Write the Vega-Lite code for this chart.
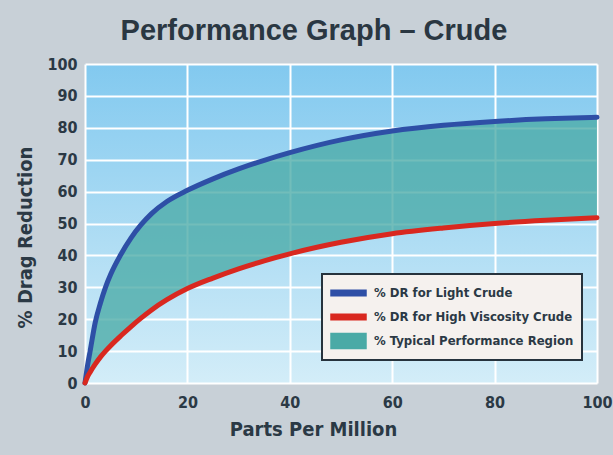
{
  "$schema": "https://vega.github.io/schema/vega-lite/v6.json",
  "width": 512,
  "height": 319,
  "autosize": {"type": "none"},
  "padding": {"left": 85, "top": 64, "right": 16, "bottom": 72},
  "background": "#c8d0d7",
  "title": {
    "text": "Performance Graph – Crude",
    "font": "Liberation Sans",
    "fontSize": 29,
    "fontWeight": "bold",
    "color": "#2a3742",
    "anchor": "middle",
    "dx": -27,
    "offset": 10
  },
  "config": {
    "view": {
      "stroke": null,
      "fill": {
        "gradient": "linear",
        "x1": 0, "y1": 0, "x2": 0, "y2": 1,
        "stops": [
          {"offset": 0, "color": "#82c9ef"},
          {"offset": 1, "color": "#d3edf8"}
        ]
      }
    },
    "axis": {
      "domain": false,
      "ticks": false,
      "grid": true,
      "gridColor": "#ffffff",
      "gridWidth": 2,
      "gridOpacity": 1,
      "labelFlush": false,
      "labelOverlap": false,
      "labelFont": "DejaVu Sans Condensed",
      "labelFontSize": 16,
      "labelFontWeight": "bold",
      "labelColor": "#2b3945",
      "titleFont": "DejaVu Sans Condensed",
      "titleFontSize": 20,
      "titleFontWeight": "bold",
      "titleColor": "#2b3945"
    },
    "legend": {
      "labelLimit": 400
    }
  },
  "data": {
    "values": [
      {"ppm": 0, "light": 0, "heavy": 0},
      {"ppm": 0.5, "light": 5.5, "heavy": 2},
      {"ppm": 1, "light": 10, "heavy": 3.4},
      {"ppm": 2, "light": 19, "heavy": 5.9},
      {"ppm": 3, "light": 25, "heavy": 8.1},
      {"ppm": 4, "light": 30, "heavy": 10},
      {"ppm": 5, "light": 34, "heavy": 11.7},
      {"ppm": 7, "light": 40.3, "heavy": 14.8},
      {"ppm": 9, "light": 45.5, "heavy": 17.7},
      {"ppm": 11, "light": 49.7, "heavy": 20.4},
      {"ppm": 13, "light": 53.1, "heavy": 22.9},
      {"ppm": 16, "light": 56.9, "heavy": 26.1},
      {"ppm": 20, "light": 60.4, "heavy": 29.6},
      {"ppm": 25, "light": 64, "heavy": 32.9},
      {"ppm": 30, "light": 67.1, "heavy": 35.8},
      {"ppm": 35, "light": 69.8, "heavy": 38.3},
      {"ppm": 40, "light": 72.2, "heavy": 40.5},
      {"ppm": 50, "light": 76.2, "heavy": 44.1},
      {"ppm": 60, "light": 79, "heavy": 46.8},
      {"ppm": 70, "light": 80.8, "heavy": 48.6},
      {"ppm": 80, "light": 82, "heavy": 50},
      {"ppm": 90, "light": 82.8, "heavy": 51},
      {"ppm": 100, "light": 83.3, "heavy": 51.8}
    ]
  },
  "encoding": {
    "x": {
      "field": "ppm",
      "type": "quantitative",
      "scale": {"domain": [0, 100], "nice": false},
      "axis": {
        "title": "Parts Per Million",
        "values": [0, 20, 40, 60, 80, 100],
        "labelPadding": 11,
        "titlePadding": 9,
        "titleX": 228
      }
    }
  },
  "layer": [
    {
      "mark": {"type": "area", "interpolate": "monotone", "opacity": 0.78},
      "encoding": {
        "y": {
          "field": "light",
          "type": "quantitative",
          "scale": {"domain": [0, 100], "nice": false},
          "axis": {
            "title": "% Drag Reduction",
            "values": [0, 10, 20, 30, 40, 50, 60, 70, 80, 90, 100],
            "labelPadding": 8,
            "titlePadding": 11,
            "titleY": 173
          }
        },
        "y2": {"field": "heavy"},
        "color": {
          "datum": "% Typical Performance Region",
          "type": "nominal",
          "scale": {
            "domain": ["% DR for Light Crude", "% DR for High Viscosity Crude", "% Typical Performance Region"],
            "range": ["#2e4fa6", "#d9281f", "#4aaaa6"]
          },
          "legend": {
            "title": null,
            "orient": "none",
            "legendX": 237,
            "legendY": 210,
            "padding": 8,
            "rowPadding": 6,
            "fillColor": "#f5f1ee",
            "strokeColor": "#26333d",
            "labelFont": "DejaVu Sans Condensed",
            "labelFontSize": 13,
            "labelFontWeight": "bold",
            "labelColor": "#2b3945",
            "labelOffset": 22,
            "labelLimit": 400,
            "symbolSize": 400,
            "encode": {
              "legend": {"update": {"strokeWidth": {"value": 2}}},
              "symbols": {
                "update": {
                  "shape": {"signal": "datum.value === '% Typical Performance Region' ? 'M-1,-0.75H2.5V0.75H-1Z' : 'M-1,-0.27H2.5V0.27H-1Z'"},
                  "fill": {"signal": "scale('color', datum.value)"},
                  "stroke": {"value": "transparent"},
                  "opacity": {"value": 1},
                  "fillOpacity": {"value": 1}
                }
              }
            }
          }
        }
      }
    },
    {
      "mark": {"type": "line", "interpolate": "monotone", "strokeWidth": 5, "strokeCap": "round"},
      "encoding": {
        "y": {
          "field": "light",
          "type": "quantitative",
          "axis": {
            "title": "% Drag Reduction",
            "values": [0, 10, 20, 30, 40, 50, 60, 70, 80, 90, 100],
            "labelPadding": 8,
            "titlePadding": 11,
            "titleY": 173
          }
        },
        "color": {
          "datum": "% DR for Light Crude",
          "type": "nominal",
          "legend": {
            "title": null,
            "orient": "none",
            "legendX": 237,
            "legendY": 210,
            "padding": 8,
            "rowPadding": 6,
            "fillColor": "#f5f1ee",
            "strokeColor": "#26333d",
            "labelFont": "DejaVu Sans Condensed",
            "labelFontSize": 13,
            "labelFontWeight": "bold",
            "labelColor": "#2b3945",
            "labelOffset": 22,
            "labelLimit": 400,
            "symbolSize": 400,
            "encode": {
              "legend": {"update": {"strokeWidth": {"value": 2}}},
              "symbols": {
                "update": {
                  "shape": {"signal": "datum.value === '% Typical Performance Region' ? 'M-1,-0.75H2.5V0.75H-1Z' : 'M-1,-0.27H2.5V0.27H-1Z'"},
                  "fill": {"signal": "scale('color', datum.value)"},
                  "stroke": {"value": "transparent"},
                  "opacity": {"value": 1},
                  "fillOpacity": {"value": 1}
                }
              }
            }
          }
        }
      }
    },
    {
      "mark": {"type": "line", "interpolate": "monotone", "strokeWidth": 5, "strokeCap": "round"},
      "encoding": {
        "y": {
          "field": "heavy",
          "type": "quantitative",
          "axis": {
            "title": "% Drag Reduction",
            "values": [0, 10, 20, 30, 40, 50, 60, 70, 80, 90, 100],
            "labelPadding": 8,
            "titlePadding": 11,
            "titleY": 173
          }
        },
        "color": {
          "datum": "% DR for High Viscosity Crude",
          "type": "nominal",
          "legend": {
            "title": null,
            "orient": "none",
            "legendX": 237,
            "legendY": 210,
            "padding": 8,
            "rowPadding": 6,
            "fillColor": "#f5f1ee",
            "strokeColor": "#26333d",
            "labelFont": "DejaVu Sans Condensed",
            "labelFontSize": 13,
            "labelFontWeight": "bold",
            "labelColor": "#2b3945",
            "labelOffset": 22,
            "labelLimit": 400,
            "symbolSize": 400,
            "encode": {
              "legend": {"update": {"strokeWidth": {"value": 2}}},
              "symbols": {
                "update": {
                  "shape": {"signal": "datum.value === '% Typical Performance Region' ? 'M-1,-0.75H2.5V0.75H-1Z' : 'M-1,-0.27H2.5V0.27H-1Z'"},
                  "fill": {"signal": "scale('color', datum.value)"},
                  "stroke": {"value": "transparent"},
                  "opacity": {"value": 1},
                  "fillOpacity": {"value": 1}
                }
              }
            }
          }
        }
      }
    }
  ]
}
